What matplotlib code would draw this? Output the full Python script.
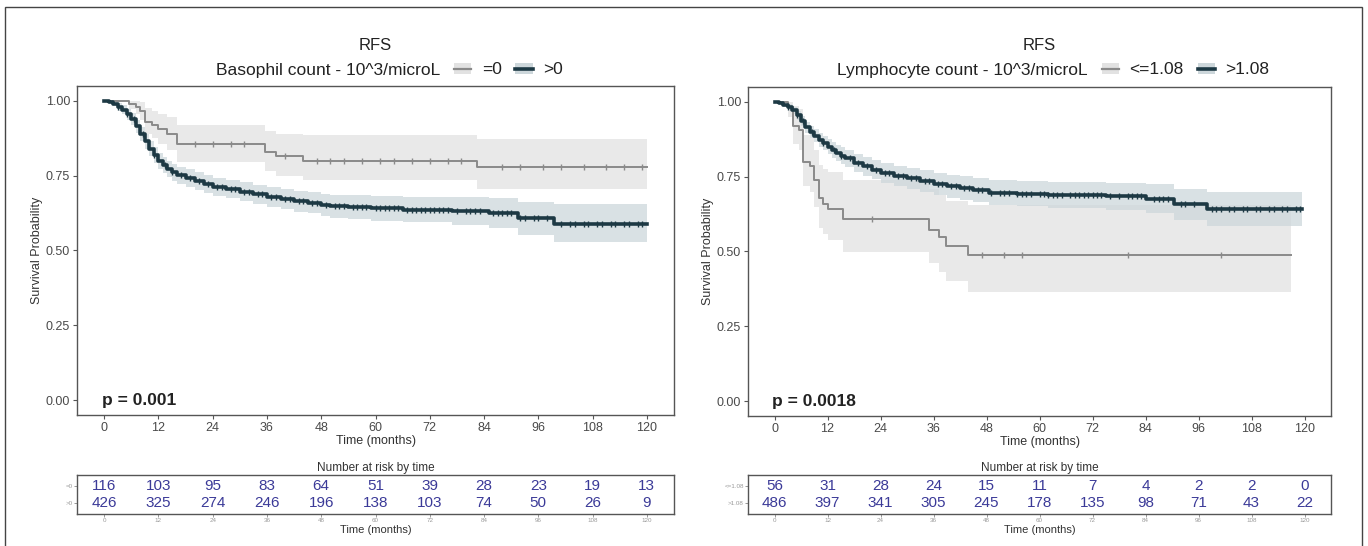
import matplotlib
matplotlib.use("Agg")
import matplotlib.pyplot as plt
from matplotlib.lines import Line2D
from matplotlib.patches import Patch, Rectangle
import numpy as np

plt.rcParams['font.family'] = ['Liberation Sans', 'DejaVu Sans']

# ---------------- data ----------------
risk_times = [0, 12, 24, 36, 48, 60, 72, 84, 96, 108, 120]

# Left panel: Basophil count
baso_title = "Basophil count - 10^3/microL"
baso_labels = ["=0", ">0"]
baso_pval = "p = 0.001"
baso_risk_g1 = [116, 103, 95, 83, 64, 51, 39, 28, 23, 19, 13]
baso_risk_g2 = [426, 325, 274, 246, 196, 138, 103, 74, 50, 26, 9]

baso_g1_t = [0, 5.5, 7, 8, 9, 10.5, 12, 14, 16, 35.5, 38, 44, 82.5, 120]
baso_g1_s = [1.0, 0.99, 0.98, 0.965, 0.93, 0.92, 0.905, 0.89, 0.855, 0.83, 0.815, 0.80, 0.778, 0.778]
baso_g1_lo = [1.0, 0.972, 0.955, 0.935, 0.89, 0.875, 0.855, 0.835, 0.795, 0.765, 0.75, 0.735, 0.705, 0.705]
baso_g1_up = [1.0, 1.0, 1.0, 0.995, 0.975, 0.965, 0.955, 0.945, 0.92, 0.9, 0.89, 0.885, 0.872, 0.872]
baso_g1_cens = [20, 24, 28, 31, 40, 47, 50, 53, 57, 61, 64, 68, 72, 76, 79, 88, 92, 97, 101, 106, 111, 115, 119]

baso_g2_t = [0, 1, 2, 3, 4, 5, 6, 7, 8, 9, 10, 11, 12, 13, 14, 15, 16, 18, 20, 22, 24, 27, 30, 33, 36,
             39, 42, 45, 48, 50, 54, 59, 66, 77, 85, 91.5, 99.5, 120]
baso_g2_s = [1.0, 0.995, 0.99, 0.98, 0.97, 0.955, 0.94, 0.915, 0.89, 0.865, 0.84, 0.82, 0.80, 0.785,
             0.772, 0.762, 0.752, 0.742, 0.732, 0.722, 0.712, 0.705, 0.697, 0.688, 0.678, 0.672, 0.665,
             0.66, 0.652, 0.648, 0.645, 0.641, 0.637, 0.632, 0.625, 0.607, 0.59, 0.59]
baso_g2_lo = [1.0, 0.99, 0.982, 0.968, 0.955, 0.937, 0.92, 0.893, 0.867, 0.84, 0.815, 0.794, 0.773,
              0.758, 0.745, 0.734, 0.724, 0.713, 0.703, 0.692, 0.682, 0.675, 0.666, 0.656, 0.645, 0.638,
              0.63, 0.624, 0.615, 0.61, 0.606, 0.6, 0.594, 0.586, 0.575, 0.552, 0.53, 0.53]
baso_g2_up = [1.0, 1.0, 0.998, 0.992, 0.985, 0.973, 0.96, 0.937, 0.913, 0.89, 0.865, 0.846, 0.827,
              0.812, 0.799, 0.79, 0.78, 0.771, 0.761, 0.752, 0.742, 0.735, 0.728, 0.72, 0.711, 0.706,
              0.7, 0.696, 0.689, 0.686, 0.684, 0.682, 0.68, 0.678, 0.675, 0.662, 0.655, 0.655]
baso_g2_cens = [3, 5, 6.5, 8.5, 11, 13.5, 15, 17, 19, 21, 23, 25, 26, 28, 29, 31, 32, 34, 35, 37, 38, 40,
                41, 43, 44, 46, 47, 49, 51, 52, 53, 55, 56, 57, 58, 60, 61, 62, 63, 64, 65, 67, 68, 69,
                70, 71, 72, 73, 74, 75, 76, 78, 80, 81, 82, 83, 86, 87, 88, 89, 90, 92, 93, 95, 96, 98,
                101, 103, 104, 106, 107, 109, 110, 112, 113, 115, 116, 118, 119]

# Right panel: Lymphocyte count
lymph_title = "Lymphocyte count - 10^3/microL"
lymph_labels = ["<=1.08", ">1.08"]
lymph_pval = "p = 0.0018"
lymph_risk_g1 = [56, 31, 28, 24, 15, 11, 7, 4, 2, 2, 0]
lymph_risk_g2 = [486, 397, 341, 305, 245, 178, 135, 98, 71, 43, 22]

lymph_g1_t = [0, 3, 4.3, 5.5, 6.5, 8, 9, 10, 11, 12, 15.5, 35, 37.3, 38.8, 43.7, 117]
lymph_g1_s = [1.0, 0.982, 0.92, 0.905, 0.80, 0.785, 0.74, 0.68, 0.66, 0.643, 0.61, 0.572, 0.547, 0.52, 0.489, 0.489]
lymph_g1_lo = [1.0, 0.95, 0.86, 0.84, 0.72, 0.70, 0.65, 0.58, 0.56, 0.54, 0.50, 0.46, 0.43, 0.40, 0.365, 0.365]
lymph_g1_up = [1.0, 1.0, 0.985, 0.975, 0.89, 0.88, 0.84, 0.79, 0.775, 0.765, 0.74, 0.71, 0.69, 0.67, 0.655, 0.655]
lymph_g1_cens = [22, 47, 52, 56, 80, 101]

lymph_g2_t = [0, 1, 2, 3, 4, 5, 6, 7, 8, 9, 10, 11, 12, 13, 14, 15, 16, 18, 20, 22, 24, 27, 30, 33, 36,
              39, 42, 45, 48.5, 55, 62, 75, 84, 90.5, 98, 119.5]
lymph_g2_s = [1.0, 0.995, 0.99, 0.982, 0.972, 0.955, 0.935, 0.915, 0.9, 0.887, 0.874, 0.862, 0.85, 0.84,
              0.83, 0.82, 0.812, 0.797, 0.785, 0.773, 0.762, 0.752, 0.745, 0.735, 0.725, 0.718, 0.712,
              0.706, 0.697, 0.693, 0.69, 0.684, 0.677, 0.658, 0.643, 0.643]
lymph_g2_lo = [1.0, 0.99, 0.982, 0.972, 0.96, 0.94, 0.918, 0.896, 0.879, 0.865, 0.851, 0.838, 0.825,
               0.814, 0.803, 0.792, 0.783, 0.767, 0.754, 0.741, 0.729, 0.718, 0.71, 0.699, 0.688, 0.68,
               0.673, 0.666, 0.656, 0.651, 0.647, 0.638, 0.628, 0.605, 0.585, 0.585]
lymph_g2_up = [1.0, 1.0, 0.998, 0.992, 0.984, 0.97, 0.952, 0.934, 0.921, 0.909, 0.897, 0.886, 0.875,
               0.866, 0.857, 0.848, 0.841, 0.827, 0.816, 0.805, 0.795, 0.786, 0.78, 0.771, 0.762, 0.756,
               0.751, 0.746, 0.738, 0.735, 0.733, 0.73, 0.726, 0.71, 0.7, 0.7]
lymph_g2_cens = [3, 5, 6.5, 8.5, 11, 13.5, 15, 17, 19, 21, 23, 25, 26, 28, 29, 31, 32, 34, 35, 37, 38, 40,
                 41, 43, 44, 46, 47, 49, 51, 52, 53, 55, 56, 57, 58, 60, 61, 62, 63, 64, 65, 67, 68, 69,
                 70, 71, 72, 73, 74, 76, 78, 80, 81, 82, 83, 86, 87, 88, 89, 92, 93, 95, 99, 100, 101,
                 103, 104, 106, 107, 109, 110, 112, 113, 115, 116, 118, 119]

# ---------------- style ----------------
C1_LINE = "#8a8a8a"
C1_FILL = "#e2e2e2"
C2_LINE = "#1d3944"
C2_FILL = "#cdd7db"
AX_COL = "#555555"
TXT_COL = "#4a4a4a"
RISK_COL = "#3b3a98"

W, H = 1368, 546
fig = plt.figure(figsize=(W / 100, H / 100), dpi=100)


def px_axes(x0, y0, x1, y1):
    return fig.add_axes([x0 / W, 1 - y1 / H, (x1 - x0) / W, (y1 - y0) / H])


def step_at(t, s, x):
    idx = np.searchsorted(np.asarray(t), x, side='right') - 1
    return np.asarray(s)[idx]


def style_box(ax):
    for sp in ax.spines.values():
        sp.set_color(AX_COL)
        sp.set_linewidth(1.0)


def draw_panel(box, rbox, title, labels, pval, g1, g2, risk1, risk2):
    ax = px_axes(*box)
    style_box(ax)
    for (t, s, lo, up, cens), lc, fc, lw, ms, z in [
        (g1, C1_LINE, C1_FILL, 1.4, 4, 3),
        (g2, C2_LINE, C2_FILL, 2.6, 5, 4),
    ]:
        ax.fill_between(t, lo, up, step='post', color=fc, alpha=0.75, lw=0, zorder=z - 2)
        ax.step(t, s, where='post', color=lc, lw=lw, zorder=z)
        cy = step_at(t, s, cens)
        ax.plot(cens, cy, ls='none', marker='|', ms=ms, mew=1.0, color=lc, zorder=z)
    ax.set_xlim(-6, 126)
    ax.set_ylim(-0.05, 1.05)
    ax.set_xticks(risk_times)
    ax.set_yticks([0, 0.25, 0.5, 0.75, 1.0])
    ax.set_yticklabels(["0.00", "0.25", "0.50", "0.75", "1.00"])
    ax.tick_params(colors=AX_COL, labelcolor=TXT_COL, labelsize=9, length=3, width=0.8, pad=2)
    ax.set_xlabel("Time (months)", fontsize=9, color="#333333", labelpad=1)
    ax.set_ylabel("Survival Probability", fontsize=9, color="#333333", labelpad=2)
    ax.text(-0.5, 0.0, pval, fontsize=12.5, fontweight='bold', color="#222222", ha='left', va='center')

    cx = (box[0] + box[2]) / 2 / W
    fig.text(cx, 1 - 45 / H, "RFS", ha='center', va='center', fontsize=12, color="#222222")
    handles = [
        Patch(facecolor='none', edgecolor='none'),
        (Patch(facecolor=C1_FILL, edgecolor='none'), Line2D([], [], color=C1_LINE, lw=1.6)),
        (Patch(facecolor=C2_FILL, edgecolor='none'), Line2D([], [], color=C2_LINE, lw=2.6)),
    ]
    leg = fig.legend(handles, [title] + labels, ncol=3, loc='center',
                     bbox_to_anchor=(cx, 1 - 70 / H), bbox_transform=fig.transFigure,
                     frameon=False, fontsize=12.5, handlelength=1.0, handleheight=0.6,
                     handletextpad=0.6, columnspacing=0.8)
    for txt in leg.get_texts():
        txt.set_color("#222222")

    # risk table
    rx = px_axes(*rbox)
    style_box(rx)
    rx.set_xlim(-6, 126)
    rx.set_ylim(0.4, 2.6)
    for tt, n1, n2 in zip(risk_times, risk1, risk2):
        rx.text(tt, 2, str(n1), ha='center', va='center', fontsize=11, color=RISK_COL)
        rx.text(tt, 1, str(n2), ha='center', va='center', fontsize=11, color=RISK_COL)
    rx.set_xticks(risk_times)
    rx.set_yticks([2, 1])
    rx.set_yticklabels(labels)
    rx.tick_params(colors="#888888", labelcolor="#999999", labelsize=4.5, length=2, width=0.6, pad=1)
    rx.set_title("Number at risk by time", fontsize=8.5, color="#333333", pad=3)
    rx.set_xlabel("Time (months)", fontsize=8, color="#333333", labelpad=1)
    return ax


draw_panel((77, 86, 674, 415), (77, 475, 674, 514), baso_title, baso_labels, baso_pval,
           (baso_g1_t, baso_g1_s, baso_g1_lo, baso_g1_up, baso_g1_cens),
           (baso_g2_t, baso_g2_s, baso_g2_lo, baso_g2_up, baso_g2_cens),
           baso_risk_g1, baso_risk_g2)
draw_panel((748, 87, 1331, 416), (748, 475, 1331, 514), lymph_title, lymph_labels, lymph_pval,
           (lymph_g1_t, lymph_g1_s, lymph_g1_lo, lymph_g1_up, lymph_g1_cens),
           (lymph_g2_t, lymph_g2_s, lymph_g2_lo, lymph_g2_up, lymph_g2_cens),
           lymph_risk_g1, lymph_risk_g2)

fig.patches.append(Rectangle((5 / W, -0.02), (1362 - 5) / W, 1.02 - 7 / H,
                             transform=fig.transFigure, fill=False, edgecolor="#444444", lw=1.0))

fig.savefig("out.png", dpi=100)
